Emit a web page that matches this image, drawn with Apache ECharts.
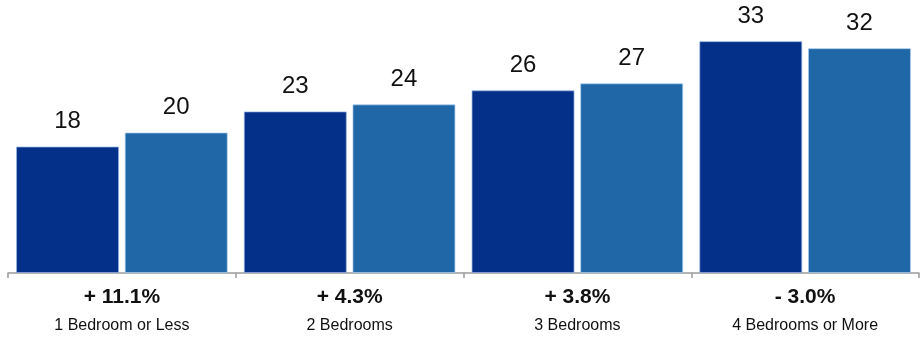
<!DOCTYPE html>
<html>
<head>
<meta charset="utf-8">
<script src="https://cdn.jsdelivr.net/npm/echarts@6/dist/echarts.min.js"></script>
<style>
  html, body { margin: 0; padding: 0; background: #fff; }
  #chart { width: 923px; height: 337px; }
</style>
</head>
<body>
<div id="chart"></div>
<script>
// Bedroom size groups and the two compared periods
const categories = ['1 Bedroom or Less', '2 Bedrooms', '3 Bedrooms', '4 Bedrooms or More'];
const changeLabels = ['+ 11.1%', '+ 4.3%', '+ 3.8%', '- 3.0%'];
const previousValues = [18, 23, 26, 33];
const currentValues = [20, 24, 27, 32];

const FONT = '"Liberation Sans", Arial, Helvetica, sans-serif';

const chart = echarts.init(document.getElementById('chart'), null, { renderer: 'canvas' });

const valueLabel = {
  show: true,
  position: 'top',
  distance: 13,
  color: '#111',
  fontFamily: FONT,
  fontSize: 24
};

chart.setOption({
  animation: false,
  grid: { left: 8, right: 4, top: 6, bottom: 64, containLabel: false },
  xAxis: {
    type: 'category',
    data: categories.map((c, i) => changeLabels[i] + '\n' + c),
    boundaryGap: true,
    axisLine: { lineStyle: { color: '#9a9a9a', width: 1.5 } },
    axisTick: { show: true, length: 5, lineStyle: { color: '#9a9a9a', width: 1.5 } },
    axisLabel: {
      margin: 10,
      interval: 0,
      fontFamily: FONT,
      formatter: function (v) {
        const parts = v.split('\n');
        return '{a|' + parts[0] + '}\n{b|' + parts[1] + '}';
      },
      rich: {
        a: { fontFamily: FONT, fontSize: 21, fontWeight: 'bold', color: '#111', lineHeight: 28 },
        b: { fontFamily: FONT, fontSize: 16, color: '#111', lineHeight: 29 }
      }
    }
  },
  yAxis: {
    type: 'value',
    min: 0,
    max: 38,
    show: false,
    splitLine: { show: false }
  },
  series: [
    {
      type: 'bar',
      data: previousValues,
      barWidth: 103,
      barGap: '5.5%',
      itemStyle: { color: '#05308A', borderColor: 'rgba(150,180,225,0.7)', borderWidth: 1 },
      label: valueLabel
    },
    {
      type: 'bar',
      data: currentValues,
      barWidth: 103,
      itemStyle: { color: '#1F67A6', borderColor: 'rgba(170,205,240,0.7)', borderWidth: 1 },
      label: valueLabel
    }
  ]
});
</script>
</body>
</html>
